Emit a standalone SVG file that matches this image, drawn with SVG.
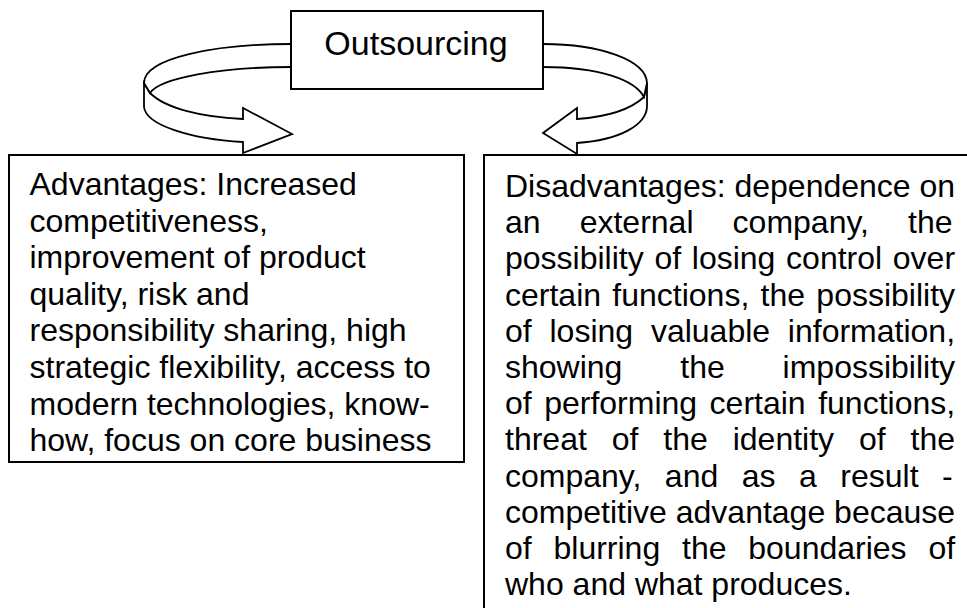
<svg xmlns="http://www.w3.org/2000/svg" width="967" height="608" viewBox="0 0 967 608">
  <style>
    .box { fill: #ffffff; stroke: #000000; stroke-width: 2; }
    .ribbon { fill: #ffffff; stroke: #000000; stroke-width: 1.8; stroke-linejoin: miter; }
    .label { font-family: "Liberation Sans", Arial, sans-serif; fill: #000000; }
    .title { font-size: 34px; }
    .body { font-size: 32px; }
  </style>
  <rect width="967" height="608" fill="#ffffff"/>

  <!-- curved arrows from the central box down to both boxes -->
  <g id="connectors">
    <g id="arrow-left">
      <path class="ribbon" d="M144,83 L144,107 C146,125 190,139 243,142 L243,153 L292,134 L243,108 L243,119 C200,117 165,108 150,93 Z"/>
      <path class="ribbon" d="M291,44 C215,44 144,58 144,83 L150,93 C160,78 220,67 291,67"/>
    </g>
    <g id="arrow-right">
      <path class="ribbon" d="M647,83 L647,107 C646,125 620,140 577,143 L577,154 L543,133 L577,108 L577,119 C605,117 630,110 644,97 Z"/>
      <path class="ribbon" d="M543,44 C600,44 646,60 647,83 L644,97 C635,80 600,67 543,67"/>
    </g>
  </g>

  <g id="outsourcing">
    <rect class="box" x="291" y="11" width="252" height="78"/>
    <text class="label title" x="416" y="55" text-anchor="middle">Outsourcing</text>
  </g>

  <g id="advantages">
    <rect class="box" x="9" y="155" width="455" height="307"/>
    <text class="label body" x="29.5">
      <tspan x="29.5" y="195">Advantages: Increased</tspan>
      <tspan x="29.5" y="231.6">competitiveness,</tspan>
      <tspan x="29.5" y="268.2">improvement of product</tspan>
      <tspan x="29.5" y="304.8">quality, risk and</tspan>
      <tspan x="29.5" y="341.4">responsibility sharing, high</tspan>
      <tspan x="29.5" y="378">strategic flexibility, access to</tspan>
      <tspan x="29.5" y="414.6">modern technologies, know-</tspan>
      <tspan x="29.5" y="451.2">how, focus on core business</tspan>
    </text>
  </g>

  <g id="disadvantages">
    <rect class="box" x="484" y="155" width="520" height="480"/>
    <g class="label body">
      <text x="505" y="197">Disadvantages: dependence on</text>
      <text x="505" y="233.2" word-spacing="30.2">an external company, the</text>
      <text x="505" y="269.4" word-spacing="1.8">possibility of losing control over</text>
      <text x="505" y="305.6" word-spacing="2.4">certain functions, the possibility</text>
      <text x="505" y="341.8" word-spacing="8.9">of losing valuable information,</text>
      <text x="505" y="378" word-spacing="48.95">showing the impossibility</text>
      <text x="505" y="414.2" word-spacing="3.6">of performing certain functions,</text>
      <text x="505" y="450.4" word-spacing="16">threat of the identity of the</text>
      <text x="505" y="486.6" word-spacing="14.6">company, and as a result -</text>
      <text x="505" y="522.8">competitive advantage because</text>
      <text x="505" y="559" word-spacing="12.9">of blurring the boundaries of</text>
      <text x="505" y="595.2">who and what produces.</text>
    </g>
  </g>
</svg>
